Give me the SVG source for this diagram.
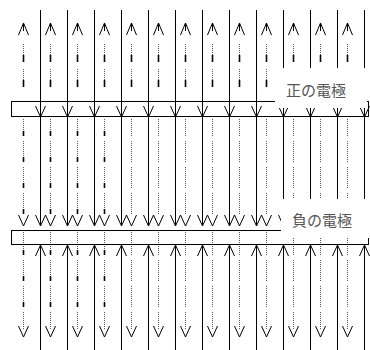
<svg xmlns="http://www.w3.org/2000/svg" xmlns:xlink="http://www.w3.org/1999/xlink" width="370" height="350" viewBox="0 0 370 350">
<style>
.s{stroke:#000;stroke-width:1;fill:none}
.g{stroke:#555;stroke-width:1;stroke-dasharray:1 1;fill:none}
.b{stroke:#000;stroke-width:1.6;fill:none}
.e{stroke:#000;stroke-width:1;fill:none}
.lb{fill:#fff;stroke:none}
.t{font-family:"Noto Sans CJK JP","Noto Sans CJK SC",sans-serif;font-size:15px;fill:#555}
</style>
<defs>
<g id="dT"><path class="g" d="M0 44V62M0 69V87"/><path class="b" d="M0 55V62M0 80V87"/><path class="s" d="M-5 35L0 23L5 35M0 23V31"/></g>
<g id="dM"><path class="g" d="M0 119V136M0 141V162M0 167V188M0 193V214"/><path class="s" d="M-5 215L0 226L5 215"/></g>
<path id="bM" class="b" d="M0 131V136M0 157V162M0 183V188M0 209V214"/>
<g id="dB"><path class="g" d="M0 232V255M0 260V281M0 286V307M0 312V330"/><path class="s" d="M-5 326L0 337L5 326"/></g>
<path id="bB" class="b" d="M0 250V255M0 276V281M0 302V307"/>
<path id="sT" class="s" d="M0 10V117M-5 106L0 117L5 106"/>
<path id="sM" class="s" d="M0 117V226M-5 215L0 226L5 215"/>
<path id="sB" class="s" d="M0 245V350M-5 256L0 245L5 256"/>
</defs>
<g id="connectors">
<use href="#dT" x="23.5"/><use href="#dT" x="50.5"/><use href="#dT" x="77.5"/><use href="#dT" x="104.5"/><use href="#dT" x="131.5"/><use href="#dT" x="158.5"/><use href="#dT" x="185.5"/><use href="#dT" x="212.5"/><use href="#dT" x="239.5"/><use href="#dT" x="266.5"/><use href="#dT" x="293.5"/><use href="#dT" x="320.5"/><use href="#dT" x="347.5"/>
<use href="#dM" x="23.5"/><use href="#dM" x="50.5"/><use href="#dM" x="77.5"/><use href="#dM" x="104.5"/><use href="#dM" x="131.5"/><use href="#dM" x="158.5"/><use href="#dM" x="185.5"/><use href="#dM" x="212.5"/><use href="#dM" x="239.5"/><use href="#dM" x="266.5"/><use href="#dM" x="293.5"/><use href="#dM" x="320.5"/><use href="#dM" x="347.5"/>
<use href="#bM" x="23.5"/><use href="#bM" x="50.5"/><use href="#bM" x="77.5"/><use href="#bM" x="104.5"/>
<use href="#dB" x="23.5"/><use href="#dB" x="50.5"/><use href="#dB" x="77.5"/><use href="#dB" x="104.5"/><use href="#dB" x="131.5"/><use href="#dB" x="158.5"/><use href="#dB" x="185.5"/><use href="#dB" x="212.5"/><use href="#dB" x="239.5"/><use href="#dB" x="266.5"/><use href="#dB" x="293.5"/><use href="#dB" x="320.5"/><use href="#dB" x="347.5"/>
<use href="#bB" x="23.5"/><use href="#bB" x="50.5"/><use href="#bB" x="77.5"/><use href="#bB" x="104.5"/>
<use href="#sT" x="40.5"/><use href="#sT" x="67.5"/><use href="#sT" x="94.5"/><use href="#sT" x="121.5"/><use href="#sT" x="148.5"/><use href="#sT" x="175.5"/><use href="#sT" x="202.5"/><use href="#sT" x="229.5"/><use href="#sT" x="256.5"/><use href="#sT" x="283.5"/><use href="#sT" x="310.5"/><use href="#sT" x="337.5"/><use href="#sT" x="364.5"/>
<use href="#sM" x="40.5"/><use href="#sM" x="67.5"/><use href="#sM" x="94.5"/><use href="#sM" x="121.5"/><use href="#sM" x="148.5"/><use href="#sM" x="175.5"/><use href="#sM" x="202.5"/><use href="#sM" x="229.5"/><use href="#sM" x="256.5"/><use href="#sM" x="283.5"/><use href="#sM" x="310.5"/><use href="#sM" x="337.5"/><use href="#sM" x="364.5"/>
<use href="#sB" x="40.5"/><use href="#sB" x="67.5"/><use href="#sB" x="94.5"/><use href="#sB" x="121.5"/><use href="#sB" x="148.5"/><use href="#sB" x="175.5"/><use href="#sB" x="202.5"/><use href="#sB" x="229.5"/><use href="#sB" x="256.5"/><use href="#sB" x="283.5"/><use href="#sB" x="310.5"/><use href="#sB" x="337.5"/><use href="#sB" x="364.5"/>
</g>
<g id="positive-electrode">
<rect class="e" x="11.5" y="101.5" width="357" height="15"/>
<rect class="lb" x="275" y="68" width="92" height="40"/>
<text class="t" x="286" y="96">正の電極</text>
</g>
<g id="negative-electrode">
<rect class="e" x="11.5" y="230.5" width="357" height="14"/>
<rect class="lb" x="281" y="199" width="89" height="39"/>
<text class="t" x="292" y="226">負の電極</text>
</g>
</svg>
